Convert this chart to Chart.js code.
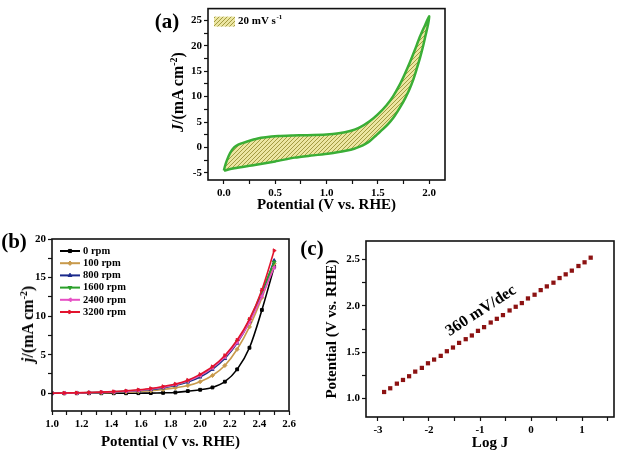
<!DOCTYPE html>
<html>
<head>
<meta charset="utf-8">
<script src="https://cdn.jsdelivr.net/npm/chart.js@4.4.1/dist/chart.umd.min.js"></script>
<style>
  body { margin: 0; background: #fff; }
  #wrap { position: relative; width: 620px; height: 454px; overflow: hidden; font-family: 'Liberation Serif', 'Times New Roman', serif; color: #000; }
  canvas { position: absolute; }
  .tag { position: absolute; font-weight: bold; font-size: 21px; line-height: 1; transform: translate(-50%, -50%); }
  .ytitle { position: absolute; font-weight: bold; font-size: 16px; line-height: 1; white-space: nowrap; transform: translate(-50%, -50%) rotate(-90deg); }
  .ytitle sup { font-size: 10px; vertical-align: 6px; line-height: 0; }
</style>
</head>
<body>
<div id="wrap">
  <canvas id="ca" width="320" height="214" style="left:140px; top:0px;"></canvas>
  <canvas id="cb" width="300" height="223" style="left:0px; top:228px;"></canvas>
  <canvas id="cc" width="297" height="224" style="left:323px; top:228px;"></canvas>
  <div class="tag" style="left:167px; top:21px;">(a)</div>
  <div class="tag" style="left:14px; top:241px;">(b)</div>
  <div class="tag" style="left:312px; top:248px;">(c)</div>
  <div class="ytitle" style="left:178px; top:92px;"><i>J</i>/(mA cm<sup>-2</sup>)</div>
  <div class="ytitle" style="left:28px; top:324px;"><i>j</i>/(mA cm<sup>-2</sup>)</div>
</div>
<script>
const FONT = "'Liberation Serif', 'Times New Roman', serif";

// (a) cyclic voltammogram, 20 mV/s (forward branch then return branch)
const cvPotential = [0.00, 0.01, 0.03, 0.06, 0.10, 0.14, 0.20, 0.33, 0.53, 0.67, 0.80, 1.00, 1.12, 1.23, 1.32, 1.42, 1.50, 1.585, 1.65, 1.71, 1.76, 1.81, 1.86, 1.909, 1.955, 2.00,
                     1.99, 1.965, 1.94, 1.91, 1.877, 1.845, 1.81, 1.77, 1.73, 1.69, 1.65, 1.60, 1.55, 1.48, 1.42, 1.38, 1.33, 1.27, 1.20, 1.03, 0.85, 0.69, 0.50, 0.30, 0.10, 0.00];
const cvCurrent = [-4.55, -3.7, -2.5, -1.1, 0.0, 0.55, 1.0, 1.78, 2.23, 2.35, 2.4, 2.55, 2.8, 3.25, 3.9, 5.15, 6.5, 8.3, 10.1, 12.2, 14.3, 16.6, 19.1, 21.7, 23.8, 25.8,
                   24.2, 22.0, 19.8, 17.5, 15.3, 13.3, 11.5, 9.8, 8.3, 7.0, 5.8, 4.6, 3.6, 2.3, 1.2, 0.7, 0.2, -0.25, -0.6, -1.2, -1.6, -2.0, -2.75, -3.45, -4.1, -4.55];
const cvXTicks = [0, 0.25, 0.5, 0.75, 1, 1.25, 1.5, 1.75, 2];
const cvXLabels = [0, 0.5, 1, 1.5, 2];
const cvYTicks = [-5, -2.5, 0, 2.5, 5, 7.5, 10, 12.5, 15, 17.5, 20, 22.5, 25];
const cvYLabels = [-5, 0, 5, 10, 15, 20, 25];

// (b) LSV at different rotation rates
const lsvPotential = [1.0, 1.083, 1.167, 1.25, 1.333, 1.417, 1.5, 1.583, 1.667, 1.75, 1.833, 1.917, 2.0, 2.083, 2.167, 2.25, 2.333, 2.417, 2.5];
const rpm0    = [0, 0, 0, 0, 0, 0, 0, 0.01, 0.02, 0.05, 0.1, 0.28, 0.45, 0.75, 1.5, 3.1, 5.9, 10.8, 16.4];
const rpm100  = [0, 0.01, 0.02, 0.04, 0.06, 0.1, 0.15, 0.22, 0.32, 0.48, 0.7, 1.0, 1.5, 2.3, 3.6, 5.7, 8.6, 12.4, 16.8];
const rpm800  = [0, 0.02, 0.04, 0.07, 0.1, 0.15, 0.23, 0.33, 0.48, 0.7, 1.0, 1.45, 2.1, 3.1, 4.5, 6.5, 9.3, 13.0, 17.2];
const rpm1600 = [0, 0.02, 0.05, 0.08, 0.12, 0.18, 0.27, 0.38, 0.55, 0.78, 1.1, 1.6, 2.3, 3.3, 4.7, 6.7, 9.5, 13.2, 17.0];
const rpm2400 = [0, 0.02, 0.05, 0.08, 0.12, 0.18, 0.27, 0.38, 0.55, 0.8, 1.12, 1.6, 2.3, 3.3, 4.7, 6.6, 9.2, 12.6, 16.3];
const rpm3200 = [0, 0.03, 0.06, 0.1, 0.15, 0.22, 0.32, 0.45, 0.62, 0.88, 1.2, 1.7, 2.45, 3.45, 4.9, 6.9, 9.6, 13.4, 18.5];
const rpmLabels = ['0 rpm', '100 rpm', '800 rpm', '1600 rpm', '2400 rpm', '3200 rpm'];
const lsvXTicks = [1.0, 1.1, 1.2, 1.3, 1.4, 1.5, 1.6, 1.7, 1.8, 1.9, 2.0, 2.1, 2.2, 2.3, 2.4, 2.5, 2.6];
const lsvXLabels = [1.0, 1.2, 1.4, 1.6, 1.8, 2.0, 2.2, 2.4, 2.6];
const lsvYTicks = [0, 2.5, 5, 7.5, 10, 12.5, 15, 17.5, 20];
const lsvYLabels = [0, 5, 10, 15, 20];

// (c) Tafel plot
const logJ = [-2.88, -2.76, -2.63, -2.51, -2.39, -2.27, -2.14, -2.02, -1.90, -1.77, -1.65, -1.53, -1.41, -1.28, -1.16, -1.04, -0.92,
              -0.79, -0.67, -0.55, -0.42, -0.30, -0.18, -0.06, 0.07, 0.19, 0.31, 0.44, 0.56, 0.68, 0.80, 0.93, 1.05, 1.17];
const tafelPotential = [1.07, 1.11, 1.16, 1.20, 1.24, 1.29, 1.33, 1.38, 1.42, 1.46, 1.51, 1.55, 1.60, 1.64, 1.68, 1.73, 1.77,
                        1.82, 1.86, 1.90, 1.95, 1.99, 2.03, 2.08, 2.12, 2.17, 2.21, 2.25, 2.30, 2.34, 2.38, 2.43, 2.47, 2.52];
const tafelXTicks = [-3, -2.5, -2, -1.5, -1, -0.5, 0, 0.5, 1, 1.5];
const tafelXLabels = [-3, -2, -1, 0, 1];
const tafelYTicks = [1.0, 1.25, 1.5, 1.75, 2.0, 2.25, 2.5];
const tafelYLabels = [1.0, 1.5, 2.0, 2.5];

const isIn = (list, v) => list.some(m => Math.abs(m - v) < 1e-6);

const axis = (min, max, tickVals, labelVals, fmt, size, horizontal, title) => ({
    type: 'linear',
    min: min,
    max: max,
    afterBuildTicks: s => { s.ticks = tickVals.map(v => ({ value: v })); },
    afterFit: s => { if (horizontal) s.height = size; else s.width = size; },
    border: { display: false },
    grid: { drawOnChartArea: false, tickLength: 4, tickColor: '#111', tickWidth: 1.2 },
    ticks: {
        autoSkip: false, maxRotation: 0, padding: horizontal ? 3 : 2, color: '#000',
        font: { family: FONT, weight: 'bold', size: 11 },
        callback: v => isIn(labelVals, v) ? fmt(v) : ''
    },
    title: title
        ? { display: true, text: title, color: '#000', padding: 0, font: { family: FONT, weight: 'bold', size: 15 } }
        : { display: false }
});

const frame = {
    id: 'frame',
    afterDatasetsDraw(chart) {
        const { ctx, chartArea: a } = chart;
        ctx.save();
        ctx.lineWidth = 1.6;
        ctx.strokeStyle = '#111';
        ctx.strokeRect(a.left, a.top, a.right - a.left, a.bottom - a.top);
        ctx.restore();
    }
};

const base = {
    responsive: false,
    animation: false,
    devicePixelRatio: 1,
    plugins: { legend: { display: false }, tooltip: { enabled: false } }
};

// ---------- (a) ----------
const ctxA = document.getElementById('ca').getContext('2d');
const hatch = (() => {
    const c = document.createElement('canvas');
    c.width = 4; c.height = 4;
    const g = c.getContext('2d');
    g.fillStyle = '#ece6a2';
    g.fillRect(0, 0, 4, 4);
    g.strokeStyle = '#a39b42';
    g.lineWidth = 1;
    g.beginPath();
    g.moveTo(0, 4); g.lineTo(4, 0);
    g.moveTo(-1, 1); g.lineTo(1, -1);
    g.moveTo(3, 5); g.lineTo(5, 3);
    g.stroke();
    return ctxA.createPattern(c, 'repeat');
})();

const cvLegend = {
    id: 'cvLegend',
    afterDraw(chart) {
        const { ctx, chartArea: a } = chart;
        ctx.save();
        ctx.fillStyle = hatch;
        ctx.fillRect(a.left + 6, a.top + 8, 21, 10);
        ctx.fillStyle = '#000';
        ctx.textBaseline = 'middle';
        ctx.font = `bold 11px ${FONT}`;
        const t = '20 mV s';
        ctx.fillText(t, a.left + 30, a.top + 13);
        const w = ctx.measureText(t).width;
        ctx.font = `bold 7px ${FONT}`;
        ctx.fillText('-1', a.left + 30 + w + 0.5, a.top + 9);
        ctx.restore();
    }
};

new Chart(ctxA, {
    type: 'line',
    data: {
        datasets: [{
            data: cvPotential.map((x, i) => ({ x: x, y: cvCurrent[i] })),
            borderColor: '#3aae36',
            borderWidth: 2.5,
            backgroundColor: hatch,
            fill: 'shape',
            pointRadius: 0,
            tension: 0.25
        }]
    },
    options: {
        ...base,
        layout: { padding: { top: 5, right: 15, left: 0, bottom: 0 } },
        scales: {
            x: axis(-0.155, 2.155, cvXTicks, cvXLabels, v => v.toFixed(1), 34, true, 'Potential (V vs. RHE)'),
            y: axis(-6.4, 27.3, cvYTicks, cvYLabels, v => String(v), 68, false, null)
        }
    },
    plugins: [frame, cvLegend]
});

// ---------- (b) ----------
const rpmSeries = [rpm0, rpm100, rpm800, rpm1600, rpm2400, rpm3200];
const rpmColors = ['#000000', '#c89a4c', '#1b2a8c', '#2aa02a', '#e64fc4', '#e2142e'];
const rpmMarkers = ['rect', 'rectRot', 'triangle', 'triangle', 'triangle', 'triangle'];
const rpmRotation = [0, 0, 0, 180, -90, 90];

const rpmLegend = {
    id: 'rpmLegend',
    afterDraw(chart) {
        const { ctx, chartArea: a } = chart;
        ctx.save();
        ctx.font = `bold 10.5px ${FONT}`;
        ctx.textBaseline = 'middle';
        rpmLabels.forEach((label, i) => {
            const y = a.top + 12 + i * 12.2;
            ctx.strokeStyle = rpmColors[i];
            ctx.lineWidth = 2;
            ctx.beginPath();
            ctx.moveTo(a.left + 8, y);
            ctx.lineTo(a.left + 28, y);
            ctx.stroke();
            if (Chart.helpers && Chart.helpers.drawPoint) {
                ctx.fillStyle = rpmColors[i];
                ctx.lineWidth = 1;
                Chart.helpers.drawPoint(ctx, { pointStyle: rpmMarkers[i], rotation: rpmRotation[i], radius: 2.2, borderWidth: 1 }, a.left + 18, y);
            }
            ctx.fillStyle = '#000';
            ctx.fillText(label, a.left + 31, y);
        });
        ctx.restore();
    }
};

new Chart(document.getElementById('cb'), {
    type: 'line',
    data: {
        datasets: rpmSeries.map((s, i) => ({
            label: rpmLabels[i],
            data: lsvPotential.map((x, k) => ({ x: x, y: s[k] })),
            borderColor: rpmColors[i],
            backgroundColor: rpmColors[i],
            borderWidth: 1.6,
            pointStyle: rpmMarkers[i],
            rotation: rpmRotation[i],
            pointRadius: 2,
            pointBorderWidth: 1,
            tension: 0.3,
            order: 5 - i
        }))
    },
    options: {
        ...base,
        layout: { padding: { top: 11, right: 11, left: 0, bottom: 0 } },
        scales: {
            x: axis(1.0, 2.6, lsvXTicks, lsvXLabels, v => v.toFixed(1), 40, true, 'Potential (V vs. RHE)'),
            y: axis(-2.3, 20, lsvYTicks, lsvYLabels, v => String(v), 52, false, null)
        }
    },
    plugins: [frame, rpmLegend]
});

// ---------- (c) ----------
const slopeNote = {
    id: 'slopeNote',
    afterDraw(chart) {
        const { ctx, scales } = chart;
        const x = scales.x.getPixelForValue(-0.98);
        const y = scales.y.getPixelForValue(1.945);
        ctx.save();
        ctx.translate(x, y);
        ctx.rotate(-33 * Math.PI / 180);
        ctx.font = `bold 16px ${FONT}`;
        ctx.fillStyle = '#000';
        ctx.textAlign = 'center';
        ctx.textBaseline = 'middle';
        ctx.fillText('360 mV/dec', 0, 0);
        ctx.restore();
    }
};

new Chart(document.getElementById('cc'), {
    type: 'line',
    data: {
        datasets: [{
            data: logJ.map((x, i) => ({ x: x, y: tafelPotential[i] })),
            showLine: false,
            pointStyle: 'rect',
            pointRadius: 3,
            pointBorderWidth: 0,
            backgroundColor: '#8c1212',
            borderColor: '#8c1212'
        }]
    },
    options: {
        ...base,
        layout: { padding: { top: 13, right: 6, left: 0, bottom: 0 } },
        scales: {
            x: axis(-3.235, 1.627, tafelXTicks, tafelXLabels, v => String(v), 35, true, 'Log J'),
            y: axis(0.8, 2.7, tafelYTicks, tafelYLabels, v => v.toFixed(1), 43, false, 'Potential (V vs. RHE)')
        }
    },
    plugins: [frame, slopeNote]
});
</script>
</body>
</html>
